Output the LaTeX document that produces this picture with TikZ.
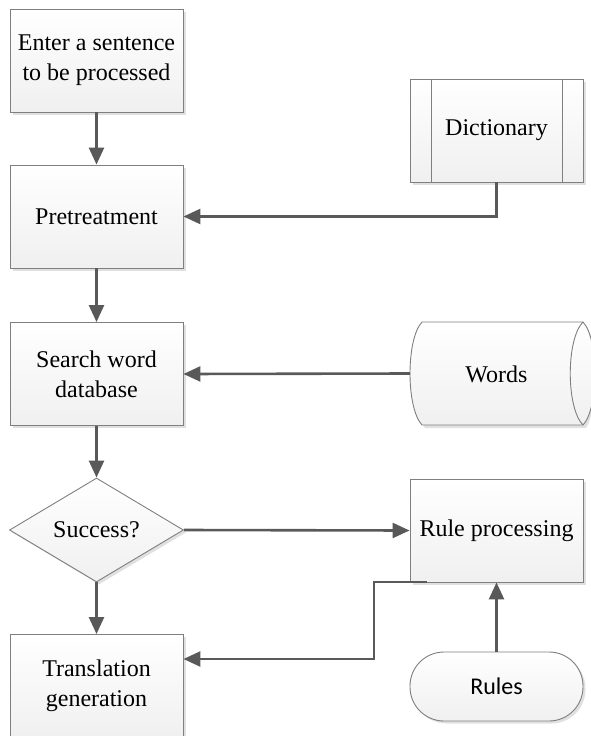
\documentclass[tikz,border=0pt]{standalone}
\usepackage{fontspec}
\setmainfont{Liberation Serif}
\newfontfamily\rulesfont{Carlito}
\usetikzlibrary{arrows.meta,shapes.geometric,shadows}
\definecolor{edgegray}{HTML}{7F7F7F}
\definecolor{arrowgray}{HTML}{595959}
\tikzset{
  x=1pt,y=-1pt,
  boxstyle/.style={draw=edgegray, line width=0.9pt, top color=white, bottom color=black!6,
    drop shadow={shadow xshift=2.5pt, shadow yshift=-2.5pt, fill=black, opacity=0.12},
    minimum width=173pt, minimum height=103pt, inner sep=0pt, align=center,
    font=\fontsize{24}{30}\selectfont},
  shapeline/.style={draw=edgegray, line width=0.9pt},
  txt/.style={font=\fontsize{24}{30}\selectfont, align=center, inner sep=0pt},
  conn/.style={draw=arrowgray, line width=2.6pt, -{Triangle[length=17pt,width=15pt]}},
  plainconn/.style={draw=arrowgray, line width=2.6pt},
}
\begin{document}
\begin{tikzpicture}
\useasboundingbox (0,0) rectangle (591,736);
% left column
\node[boxstyle] (enter) at (96.5,60.5) {Enter a sentence\\to be processed};
\node[boxstyle] (pre) at (96.5,216.5) {Pretreatment};
\node[boxstyle] (search) at (96.5,374) {Search word\\database};
\node[boxstyle, diamond, minimum width=174pt, minimum height=104pt, aspect=1.66] (succ) at (96.5,530) {Success?};
\node[boxstyle] (trans) at (96.5,686) {Translation\\generation};
% dictionary (predefined process)
\node[boxstyle] (dict) at (496.5,130.5) {};
\draw[shapeline] (431,79) -- (431,182);
\draw[shapeline] (562,79) -- (562,182);
\node[txt] (dicttext) at (496.5,130.5) {Dictionary};
% words (direct access storage)
\fill[black, opacity=0.12] (425,325) -- (586,325) .. controls (598,342) and (598,411) .. (586,428)
  -- (425,428) .. controls (413,411) and (413,342) .. (425,325) -- cycle;
\path[shapeline, top color=white, bottom color=black!6]
  (422,322) -- (583,322) .. controls (599,339) and (599,408) .. (583,425)
  -- (422,425) .. controls (406,408) and (406,339) .. (422,322) -- cycle;
\draw[shapeline] (583,322) .. controls (566,339) and (566,408) .. (583,425);
\node[txt] (words) at (496.5,374) {Words};
\coordinate (wordsW) at (410,373.5);
% rule processing
\node[boxstyle] (rule) at (496.5,530.5) {Rule processing};
% rules terminal
\node[boxstyle, rounded corners=34pt, minimum height=69pt, font=\rulesfont\fontsize{24}{30}\selectfont] (rules) at (496.5,686.5) {Rules};
% connectors
\draw[conn] (enter.south) -- (pre.north);
\draw[conn] (pre.south) -- (search.north);
\draw[conn] (search.south) -- (succ.north);
\draw[conn] (succ.south) -- (trans.north);
\coordinate (dictB) at (dict.south);
\draw[conn] (dictB) |- (pre.east);
\draw[conn] (wordsW) -- (search.east);
\draw[conn] (succ.east) -- (rule.west);
\draw[conn] (rules.north) -- (rule.south);
\coordinate (ruleB) at (427,582);
\coordinate (bend1) at (374,582);
\coordinate (transE) at (trans.east |- 0,659);
\draw[conn] (ruleB) -- (bend1) |- (transE);
\end{tikzpicture}
\end{document}
